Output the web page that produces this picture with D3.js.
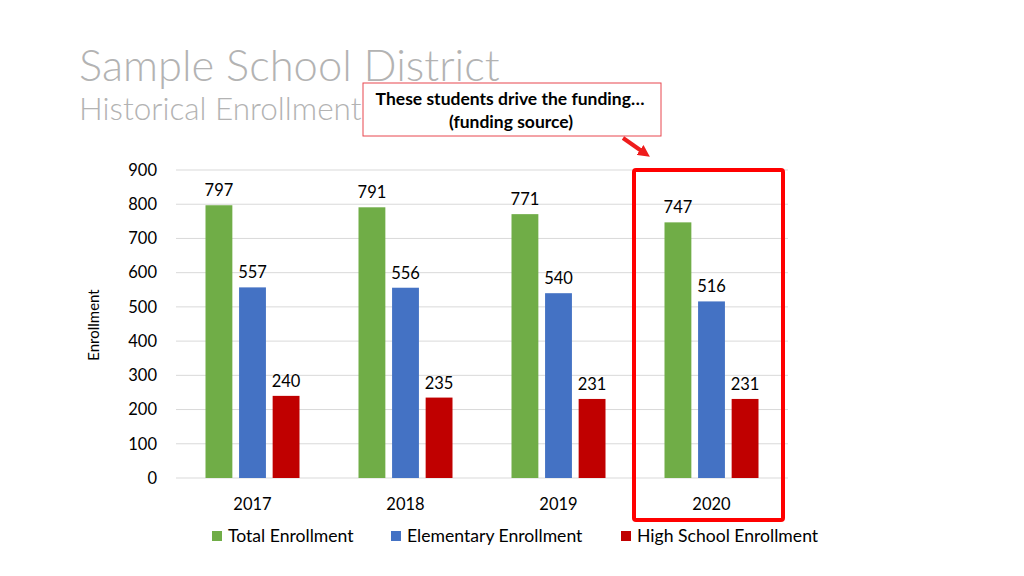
<!DOCTYPE html>
<html>
<head>
<meta charset="utf-8">
<script src="https://cdn.jsdelivr.net/npm/d3@7"></script>
<style>
  body { margin: 0; background: #fff; }
  text { font-family: Lato, "Open Sans", sans-serif; }
</style>
</head>
<body>
<div id="chart"></div>
<script>
// Chart data
const years = ["2017", "2018", "2019", "2020"];
const seriesNames = ["Total Enrollment", "Elementary Enrollment", "High School Enrollment"];
const totalEnrollment = [797, 791, 771, 747];
const elementaryEnrollment = [557, 556, 540, 516];
const highSchoolEnrollment = [240, 235, 231, 231];
const yTicks = [0, 100, 200, 300, 400, 500, 600, 700, 800, 900];
const highlightYear = "2020";

const colors = ["#70ad47", "#4472c4", "#c00000"];
const seriesValues = [totalEnrollment, elementaryEnrollment, highSchoolEnrollment];

// Dimensions
const svgWidth = 1024;
const svgHeight = 576;
const margin = { top: 170, right: 236, bottom: 98, left: 176 };
const chartWidth = svgWidth - margin.left - margin.right;
const chartHeight = svgHeight - margin.top - margin.bottom;

const svg = d3.select("#chart")
  .append("svg")
  .attr("width", svgWidth)
  .attr("height", svgHeight);

// Title
svg.append("text")
  .attr("x", 79)
  .attr("y", 81)
  .attr("font-size", 43.5)
  .attr("font-weight", 300)
  .attr("fill", "#b3b3b3")
  .text("Sample School District");

svg.append("text")
  .attr("x", 79)
  .attr("y", 120)
  .attr("font-size", 31.5)
  .attr("font-weight", 300)
  .attr("fill", "#b3b3b3")
  .text("Historical Enrollment");

const chart = svg.append("g")
  .attr("transform", `translate(${margin.left}, ${margin.top})`);

// Scales
const xScale = d3.scaleBand()
  .domain(years)
  .range([0, chartWidth]);

const xInner = d3.scaleBand()
  .domain(d3.range(seriesNames.length))
  .range([xScale.bandwidth() / 2 - 47, xScale.bandwidth() / 2 + 47])
  .paddingInner(0.2);

const yScale = d3.scaleLinear()
  .domain([0, 900])
  .range([chartHeight, 0]);

// Gridlines
chart.append("g")
  .selectAll("line")
  .data(yTicks)
  .join("line")
  .attr("x1", 0)
  .attr("x2", chartWidth)
  .attr("y1", d => yScale(d))
  .attr("y2", d => yScale(d))
  .attr("stroke", "#d9d9d9")
  .attr("stroke-width", 1);

// Y axis
const yAxis = d3.axisLeft(yScale)
  .tickValues(yTicks)
  .tickSize(0)
  .tickPadding(19);

const yAxisG = chart.append("g").call(yAxis);
yAxisG.select(".domain").remove();
yAxisG.selectAll("text")
  .attr("font-size", 16.5)
  .attr("fill", "#000")
  .style("font-family", "Lato, sans-serif");

// X axis
const xAxis = d3.axisBottom(xScale).tickSize(0).tickPadding(20);
const xAxisG = chart.append("g")
  .attr("transform", `translate(0, ${chartHeight})`)
  .call(xAxis);
xAxisG.select(".domain").remove();
xAxisG.selectAll("text")
  .attr("font-size", 16.5)
  .attr("fill", "#000")
  .style("font-family", "Lato, sans-serif");

// Y axis label
svg.append("text")
  .attr("transform", `translate(99, ${margin.top + chartHeight / 2 + 1}) rotate(-90)`)
  .attr("text-anchor", "middle")
  .attr("font-size", 15)
  .attr("fill", "#000")
  .text("Enrollment");

// Bars
const barData = years.flatMap((yr, i) =>
  seriesValues.map((vals, s) => ({ year: yr, s: s, value: vals[i] })));

const groups = chart.append("g");

groups.selectAll("rect")
  .data(barData)
  .join("rect")
  .attr("x", d => xScale(d.year) + xInner(d.s))
  .attr("y", d => yScale(d.value))
  .attr("width", xInner.bandwidth())
  .attr("height", d => chartHeight - yScale(d.value))
  .attr("fill", d => colors[d.s]);

groups.selectAll("text")
  .data(barData)
  .join("text")
  .attr("x", d => xScale(d.year) + xInner(d.s) + xInner.bandwidth() / 2)
  .attr("y", d => yScale(d.value) - 9)
  .attr("text-anchor", "middle")
  .attr("font-size", 16.5)
  .attr("fill", "#000")
  .text(d => d.value);

// Highlight box around 2020
const hx = xScale(highlightYear);
chart.append("rect")
  .attr("x", hx - 1)
  .attr("y", 0)
  .attr("width", 149)
  .attr("height", chartHeight + 42)
  .attr("fill", "none")
  .attr("stroke", "#ff0000")
  .attr("stroke-width", 4)
  .attr("rx", 2);

// Callout
svg.append("rect")
  .attr("x", 363)
  .attr("y", 83)
  .attr("width", 298)
  .attr("height", 53)
  .attr("fill", "#fff")
  .attr("stroke", "#e8474f")
  .attr("stroke-width", 1);

svg.append("text")
  .attr("x", 510)
  .attr("y", 105)
  .attr("text-anchor", "middle")
  .attr("font-size", 17.5)
  .attr("font-weight", "bold")
  .attr("fill", "#000")
  .text("These students drive the funding…");

svg.append("text")
  .attr("x", 511)
  .attr("y", 128)
  .attr("text-anchor", "middle")
  .attr("font-size", 17.5)
  .attr("font-weight", "bold")
  .attr("fill", "#000")
  .text("(funding source)");

// Arrow
svg.append("defs").append("marker")
  .attr("id", "arrow")
  .attr("viewBox", "0 0 10 10")
  .attr("refX", 3)
  .attr("refY", 5)
  .attr("markerWidth", 3)
  .attr("markerHeight", 3)
  .attr("markerUnits", "strokeWidth")
  .attr("orient", "auto")
  .append("path")
  .attr("d", "M0,0 L10,5 L0,10 Z")
  .attr("fill", "#ee1c1c");

svg.append("line")
  .attr("x1", 623)
  .attr("y1", 138)
  .attr("x2", 643)
  .attr("y2", 152)
  .attr("stroke", "#ee1c1c")
  .attr("stroke-width", 4)
  .attr("marker-end", "url(#arrow)");

// Legend
const legendX = [212, 391, 621];
const legend = svg.append("g")
  .selectAll("g")
  .data(seriesNames)
  .join("g")
  .attr("transform", (d, i) => `translate(${legendX[i]}, 536)`);

legend.append("rect")
  .attr("x", 0)
  .attr("y", -5)
  .attr("width", 10)
  .attr("height", 10)
  .attr("fill", (d, i) => colors[i]);

legend.append("text")
  .attr("x", 16)
  .attr("y", 6)
  .attr("font-size", 17.6)
  .attr("fill", "#000")
  .text(d => d);
</script>
</body>
</html>
